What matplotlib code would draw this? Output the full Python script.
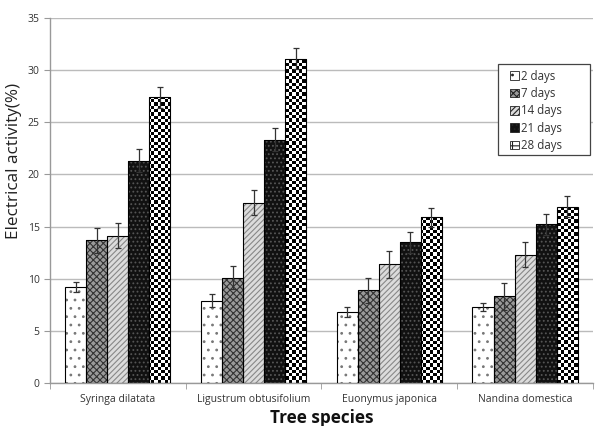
import matplotlib
matplotlib.use("Agg")
import matplotlib.pyplot as plt
import numpy as np
from matplotlib.patches import Patch, Rectangle
from matplotlib.legend_handler import HandlerPatch

categories = ["Syringa dilatata", "Ligustrum obtusifolium", "Euonymus japonica", "Nandina domestica"]
series = ["2 days", "7 days", "14 days", "21 days", "28 days"]
values = [
    [9.2, 7.9, 6.8, 7.3],
    [13.7, 10.1, 8.9, 8.3],
    [14.1, 17.3, 11.4, 12.3],
    [21.3, 23.3, 13.5, 15.2],
    [27.4, 31.1, 15.9, 16.9],
]
errors = [
    [0.5, 0.6, 0.5, 0.4],
    [1.2, 1.1, 1.2, 1.3],
    [1.2, 1.2, 1.3, 1.2],
    [1.1, 1.1, 1.0, 1.0],
    [1.0, 1.0, 0.9, 1.0],
]
yticks = [0, 5, 10, 15, 20, 25, 30, 35]

styles = [
    dict(face="white", hatch="..", hcol="#777777"),
    dict(face="#9a9a9a", hatch="xxxxx", hcol="#333333"),
    dict(face="#dcdcdc", hatch="//////", hcol="#888888"),
    dict(face="#111111", hatch="....", hcol="#555555"),
    dict(face="white", hatch=None, hcol="black"),  # checkerboard texture
]

plt.rcParams["font.family"] = ["Open Sans", "DejaVu Sans"]
plt.rcParams["hatch.linewidth"] = 0.8

fig = plt.figure(figsize=(6.02, 4.26), dpi=100)
ax = fig.add_axes([0.083, 0.101, 0.902, 0.857])
ax.set_xlim(-0.5, 3.5)
ax.set_ylim(0, 35)

# checkerboard texture (about 3.3 px squares)
ny, nx = 112, 166
checker = (np.add.outer(np.arange(ny), np.arange(nx)) % 2).astype(float)

x = np.arange(len(categories))
w = 0.155
for i, s in enumerate(series):
    off = (i - 2) * w
    st = styles[i]
    bars = ax.bar(x + off, values[i], w, color=st["face"], hatch=st["hatch"],
                  edgecolor=st["hcol"], linewidth=0, zorder=2)
    if st["hatch"] is None:
        for b in bars:
            im = ax.imshow(checker, cmap="gray", vmin=0, vmax=1, extent=(-0.5, 3.5, 0, 35),
                           aspect="auto", interpolation="nearest", zorder=2.5)
            im.set_clip_path(b)
    ax.bar(x + off, values[i], w, fill=False, edgecolor="black", linewidth=0.8, zorder=3)
    ax.errorbar(x + off, values[i], yerr=errors[i], fmt="none", ecolor="#333333",
                elinewidth=0.9, capsize=2.5, capthick=0.9, zorder=4)


def square_patch(legend, orig_handle, xdescent, ydescent, width, height, fontsize):
    side = height * 1.0
    return Rectangle((-xdescent + width - side, -ydescent), side, side)


handles = []
for st in styles:
    if st["hatch"] is None:
        p = Patch(facecolor="white", hatch="++", edgecolor="#222222", linewidth=0.6)
    else:
        p = Patch(facecolor=st["face"], hatch=st["hatch"], edgecolor="#222222", linewidth=0.6)
    handles.append(p)

# legend frame drawn as a separate box
ax.add_patch(Rectangle((0.825, 0.625), 0.1695, 0.249, transform=ax.transAxes,
                       facecolor="white", edgecolor="#444444", linewidth=0.9, zorder=5))
leg = ax.legend(handles, series, loc="upper left", bbox_to_anchor=(0.838, 0.868),
                frameon=False, fontsize=8.3,
                handlelength=0.9, handleheight=0.75, handletextpad=0.2, labelspacing=0.38,
                borderpad=0.3, borderaxespad=0,
                handler_map={Patch: HandlerPatch(patch_func=square_patch)})
leg.set_zorder(6)
for t in leg.get_texts():
    t.set_color("#333333")

ax.set_yticks(yticks)
ax.yaxis.grid(True, color="#bbbbbb", linewidth=1.0, zorder=0)
ax.set_axisbelow(True)
ax.set_xticks(x)
ax.set_xticklabels(categories, fontsize=7.5, color="#333333")
ax.set_xticks(np.arange(-0.5, 4.0, 1.0), minor=True)
ax.tick_params(axis="x", which="major", length=0, pad=8)
ax.tick_params(axis="x", which="minor", length=4, color="#999999")
ax.tick_params(axis="y", length=4, color="#999999", labelsize=7.5, labelcolor="#333333")
for sp in ["top", "right"]:
    ax.spines[sp].set_visible(False)
for sp in ["left", "bottom"]:
    ax.spines[sp].set_color("#999999")
    ax.spines[sp].set_linewidth(1.0)

ax.set_ylabel("Electrical activity(%)", fontsize=12.3, color="#222222")
ax.yaxis.set_label_coords(-0.052, 0.608)
ax.set_xlabel("Tree species", fontsize=12.3, fontweight="bold", color="#111111")
ax.xaxis.set_label_coords(0.5, -0.07)

fig.savefig("out.png", dpi=100)
